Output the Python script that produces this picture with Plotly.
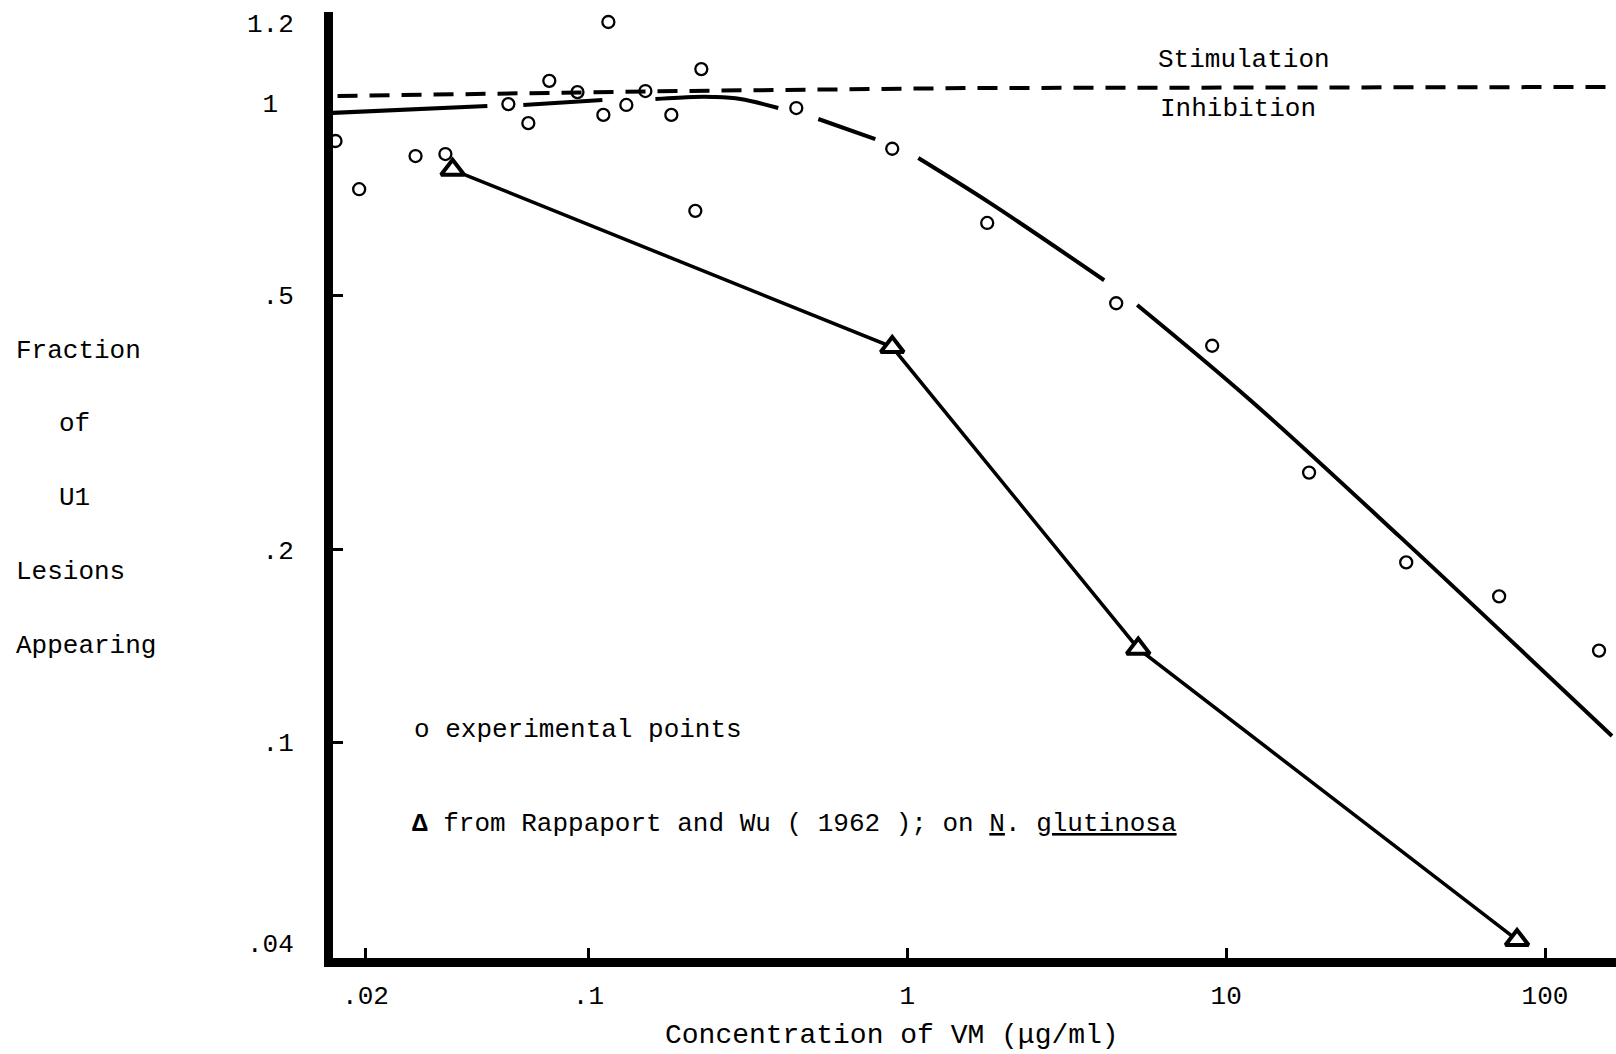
import plotly.graph_objects as go

# ---------------- data ----------------
# experimental points (circles)
exp_conc = [0.0161, 0.0191, 0.0287, 0.0356, 0.0561, 0.0648, 0.0754, 0.0924,
            0.1114, 0.1155, 0.1315, 0.1509, 0.1820, 0.2164, 0.2260, 0.4487,
            0.897, 1.781, 4.52, 9.04, 18.2, 36.7, 71.8, 147.7]
exp_frac = [0.872, 0.733, 0.826, 0.832, 0.996, 0.930, 1.083, 1.040,
            0.958, 1.339, 0.993, 1.044, 0.958, 0.678, 1.130, 0.982,
            0.848, 0.649, 0.486, 0.417, 0.264, 0.191, 0.169, 0.139]

# Rappaport and Wu (1962) points (triangles)
rw_conc = [0.0375, 0.897, 5.30, 81.7]
rw_frac = [0.786, 0.415, 0.140, 0.049]

# hand-drawn fitted curve through experimental points (segments separated by gaps)
fit_conc = [0.0158, 0.0482, None, 0.0625, 0.1106, None,
            0.1622, 0.2134, 0.2465, 0.2996, 0.394, None,
            0.526, 0.794, None,
            1.083, 1.820, 4.145, None,
            5.26, 11.89, 35.1, 162.2]
fit_frac = [0.965, 0.989, None, 0.993, 1.011, None,
            1.0145, 1.022, 1.022, 1.0145, 0.982, None,
            0.944, 0.878, None,
            0.820, 0.697, 0.528, None,
            0.483, 0.343, 0.2094, 0.1022]

# dashed "no effect" line separating stimulation / inhibition
ref_conc = [0.01634, 0.1942, 1.61, 163.0]
ref_frac = [1.0255, 1.0442, 1.0555, 1.0594]

# axis ticks (labels placed where the original figure prints them)
x_tickvals = [0.02, 0.1, 1, 10, 100]
x_ticktext = [".02", ".1", "1", "10", "100"]
y_tickvals = [1.334, 1.0, 0.5, 0.2, 0.1, 0.0485]
y_ticktext = ["1.2", "1\u00a0", ".5", ".2", ".1", ".04"]
y_tickmarks = [0.5, 0.2, 0.1]

FONT = "Liberation Mono, DejaVu Sans Mono, monospace"

fig = go.Figure()

fig.add_trace(go.Scatter(
    x=ref_conc, y=ref_frac, mode="lines",
    line=dict(color="black", width=4, dash="20px,12px"),
    hoverinfo="skip"))

fig.add_trace(go.Scatter(
    x=fit_conc, y=fit_frac, mode="lines", connectgaps=False,
    line=dict(color="black", width=4, shape="spline", smoothing=1.0),
    hoverinfo="skip"))

fig.add_trace(go.Scatter(
    x=rw_conc, y=rw_frac, mode="lines+markers",
    line=dict(color="black", width=3.5),
    marker=dict(symbol="triangle-up", size=20, color="white",
                line=dict(color="black", width=4)),
    name="from Rappaport and Wu (1962); on N. glutinosa"))

fig.add_trace(go.Scatter(
    x=exp_conc, y=exp_frac, mode="markers",
    marker=dict(symbol="circle-open", size=12, color="black",
                line=dict(color="black", width=2.3)),
    name="experimental points"))

L, R, T, B = 332.5, 0, 12, 96
W, H = 1616, 1054
pw, ph = W - L - R, H - T - B


def px(xpix):
    return (xpix - L) / pw


def py(ypix):
    return (H - B - ypix) / ph


ann = []
txt = dict(color="black", family=FONT, size=26)


def add_text(text, xpix, ypix, anchor="left", size=26):
    ann.append(dict(text=text, x=px(xpix), y=py(ypix), xref="paper", yref="paper",
                    xanchor=anchor, yanchor="middle", showarrow=False,
                    font=dict(color="black", family=FONT, size=size)))


add_text("Stimulation", 1156, 60)
add_text("Inhibition", 1158, 109)
add_text("o experimental points", 412, 730)
add_text("<b>Δ</b> from Rappaport and Wu ( 1962 ); on <u>N</u>. <u>glutinosa</u>", 410, 824)
add_text("Fraction", 13, 351)
add_text("of", 74, 424, anchor="center")
add_text("U1", 74, 498, anchor="center")
add_text("Lesions", 13, 572)
add_text("Appearing", 13, 646)
add_text("Concentration of VM (μg/ml)", 892, 1035, anchor="center", size=28)

fig.update_layout(
    width=W, height=H, autosize=False,
    margin=dict(l=L, r=R, t=T, b=B, pad=0),
    paper_bgcolor="white", plot_bgcolor="white",
    showlegend=False,
    annotations=ann,
    xaxis=dict(type="log", range=[-1.801, 2.2226],
               showline=True, linewidth=9, linecolor="black", mirror=False,
               ticks="inside", ticklen=10, tickwidth=3, tickcolor="black",
               tickmode="array", tickvals=x_tickvals, ticktext=x_ticktext,
               tickfont=txt, ticklabelstandoff=6,
               showgrid=False, zeroline=False),
    yaxis=dict(type="log", range=[-1.338, 0.1424],
               showline=True, linewidth=9, linecolor="black", mirror=False,
               ticks="", tickmode="array", tickvals=y_tickvals, ticktext=y_ticktext,
               tickfont=txt, ticklabelstandoff=25,
               minor=dict(ticks="inside", tickmode="array", tickvals=y_tickmarks,
                          ticklen=10, tickwidth=3, tickcolor="black", showgrid=False),
               showgrid=False, zeroline=False),
)

fig.write_html("out.html")
